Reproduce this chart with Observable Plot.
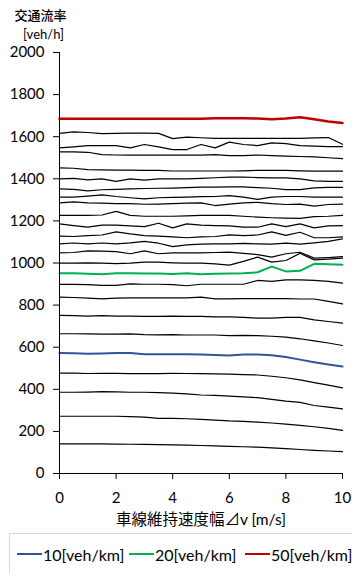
<!DOCTYPE html>
<html>
<head>
<meta charset="utf-8">
<script src="https://cdn.jsdelivr.net/npm/d3@7"></script>
<script src="https://cdn.jsdelivr.net/npm/@observablehq/plot@0.6"></script>
<style>
  html, body { margin: 0; padding: 0; background: #fff; }
  body { width: 352px; height: 573px; overflow: hidden; position: relative; font-family: Lato, "Noto Sans CJK JP", sans-serif; }
  #chart { position: absolute; left: 0; top: 0; }
  #legend { position: absolute; left: 9px; top: 533px; width: 360px; height: 45px; border: 1px solid #d9d9d9; box-sizing: border-box; }
  .item { position: absolute; top: 10px; height: 20px; display: flex; align-items: center; font-size: 16px; color: #000; white-space: nowrap; }
  .sw { width: 25px; height: 0; border-top: 2px solid; margin-right: 1px; }
</style>
</head>
<body>
<div id="chart"></div>
<div id="legend"></div>
<script>
// x values (速度幅 Δv [m/s])
const dv = [0,0.5,1,1.5,2,2.5,3,3.5,4,4.5,5,5.5,6,6.5,7,7.5,8,8.5,9,9.5,10];
const xTicks = [0,2,4,6,8,10];
const yTicks = [0,200,400,600,800,1000,1200,1400,1600,1800,2000];
const densities = [2,4,6,8,10,12,14,16,18,20,22,24,26,28,30,32,34,36,38,40,42,44,46,48,50];

// flow [veh/h] per density [veh/km]
const q2  = [141,141,141,141,140,139,138,137,136,135,133,131,129,127,125,122,118,114,110,107,104];
const q4  = [272,272,272,272,272,270,268,262,262,260,257,254,250,248,244,240,235,229,222,214,205];
const q6  = [386,386,387,389,388,386,386,384,382,378,373,371,368,364,360,352,344,338,323,315,307];
const q8  = [477,477,475,476,476,474,474,474,476,475,474,473,472,470,468,462,455,445,432,420,407];
const q10 = [572,571,569,570,572,572,566,566,566,566,565,563,560,565,565,562,553,541,529,518,508];
const q12 = [664,664,663,662,662,663,660,659,660,658,658,658,655,656,655,652,648,640,630,620,608];
const q14 = [751,750,748,750,748,748,746,746,748,746,746,744,744,742,738,738,742,742,730,722,714];
const q16 = [838,836,833,830,833,834,834,834,834,834,838,830,830,831,831,831,831,829,829,818,806];
const q18 = [898,898,897,894,894,901,899,899,897,892,899,899,899,899,917,913,920,920,917,913,904];
const q20 = [951,951,949,947,951,951,950,950,948,951,947,949,950,951,956,983,960,963,996,994,992];
const q22 = [999,999,1001,999,997,999,1004,1004,1001,999,999,996,990,1008,1028,1004,1012,1046,1015,1018,1023];
const q24 = [1048,1050,1058,1056,1054,1044,1058,1044,1048,1048,1048,1050,1052,1046,1040,1028,1044,1051,1023,1026,1030];
const q26 = [1091,1095,1091,1095,1091,1096,1103,1094,1078,1086,1090,1091,1091,1093,1091,1090,1094,1090,1096,1103,1115];
const q28 = [1128,1126,1130,1133,1148,1138,1130,1128,1124,1120,1124,1126,1134,1130,1133,1148,1131,1146,1120,1120,1124];
const q30 = [1186,1178,1170,1180,1180,1176,1173,1189,1167,1186,1180,1178,1176,1170,1170,1186,1173,1186,1167,1176,1178];
const q32 = [1226,1226,1226,1228,1245,1226,1222,1222,1222,1224,1226,1226,1226,1222,1218,1215,1213,1212,1220,1222,1226];
const q34 = [1286,1290,1286,1284,1282,1282,1279,1280,1282,1284,1286,1273,1280,1286,1288,1282,1278,1280,1270,1278,1280];
const q36 = [1313,1313,1318,1324,1316,1310,1305,1310,1312,1313,1315,1316,1320,1313,1302,1313,1316,1316,1313,1313,1313];
const q38 = [1352,1350,1343,1348,1350,1352,1354,1355,1356,1358,1360,1360,1362,1362,1358,1355,1349,1349,1357,1359,1359];
const q40 = [1400,1402,1395,1400,1388,1400,1394,1400,1400,1400,1402,1405,1408,1408,1406,1404,1404,1400,1390,1388,1388];
const q42 = [1452,1450,1444,1442,1441,1441,1440,1440,1437,1437,1437,1437,1437,1438,1440,1440,1440,1438,1436,1436,1436];
const q44 = [1528,1528,1526,1515,1513,1512,1512,1512,1512,1512,1512,1515,1510,1510,1513,1510,1508,1506,1504,1500,1496];
const q46 = [1547,1552,1558,1558,1558,1547,1563,1552,1539,1539,1563,1547,1574,1563,1558,1571,1567,1558,1555,1553,1553];
const q48 = [1616,1623,1620,1615,1616,1617,1617,1616,1591,1598,1595,1592,1592,1592,1592,1592,1592,1592,1594,1596,1564];
const q50 = [1685,1685,1685,1685,1685,1685,1685,1685,1685,1685,1685,1688,1688,1688,1686,1683,1686,1692,1683,1672,1665];

const flows = [q2,q4,q6,q8,q10,q12,q14,q16,q18,q20,q22,q24,q26,q28,q30,q32,q34,q36,q38,q40,q42,q44,q46,q48,q50];

const highlight = [
  {k: 10, label: "10[veh/km]", color: "#2f5597", width: 2},
  {k: 20, label: "20[veh/km]", color: "#00b050", width: 2},
  {k: 50, label: "50[veh/km]", color: "#c00000", width: 2.5}
];

const rows = [];
densities.forEach((k, j) => {
  flows[j].forEach((q, i) => rows.push({k, v: dv[i], q}));
});
const hk = new Set(highlight.map(h => h.k));
const blackRows = rows.filter(r => !hk.has(r.k));

const marks = [
  Plot.line(blackRows, {x: "v", y: "q", z: "k", stroke: "#000", strokeWidth: 1.2}),
  ...highlight.map(h => Plot.line(rows.filter(r => r.k === h.k), {x: "v", y: "q", stroke: h.color, strokeWidth: h.width})),
  Plot.ruleX([0], {stroke: "#000", strokeWidth: 1}),
  Plot.ruleY([0], {stroke: "#000", strokeWidth: 1}),
  Plot.axisY({ticks: yTicks, tickFormat: d => String(d), tickSize: 6, tickPadding: 9, label: null, fontSize: 15}),
  Plot.axisX({ticks: xTicks, tickFormat: d => String(d), tickSize: 6, tickPadding: 13, label: null, fontSize: 15}),
  Plot.text(["交通流率"], {frameAnchor: "top-left", textAnchor: "middle", lineAnchor: "middle", dx: -19, dy: -37, fontSize: 13, fontWeight: 500, fill: "#000"}),
  Plot.text(["[veh/h]"], {frameAnchor: "top-left", textAnchor: "middle", lineAnchor: "middle", dx: -16, dy: -18, fontSize: 13, fill: "#000"}),
  Plot.text(["車線維持速度幅⊿v [m/s]"], {frameAnchor: "bottom", textAnchor: "middle", lineAnchor: "middle", dy: 47, fontSize: 15.5, fill: "#000"})
];

const chart = Plot.plot({
  width: 352,
  height: 533,
  marginLeft: 59,
  marginRight: 10,
  marginTop: 52,
  marginBottom: 60,
  x: {domain: [0, 10]},
  y: {domain: [0, 2000]},
  style: {fontFamily: 'Lato, "Noto Sans CJK JP", sans-serif', fontSize: "15px", color: "#000", background: "#fff", overflow: "visible"},
  marks
});
document.getElementById("chart").appendChild(chart);

const legend = document.getElementById("legend");
const lefts = [7, 119, 235];
highlight.forEach((h, i) => {
  const it = document.createElement("div");
  it.className = "item";
  it.style.left = lefts[i] + "px";
  const sw = document.createElement("span");
  sw.className = "sw";
  sw.style.borderTopColor = h.color;
  const t = document.createElement("span");
  t.textContent = h.label;
  it.appendChild(sw);
  it.appendChild(t);
  legend.appendChild(it);
});
</script>
</body>
</html>
